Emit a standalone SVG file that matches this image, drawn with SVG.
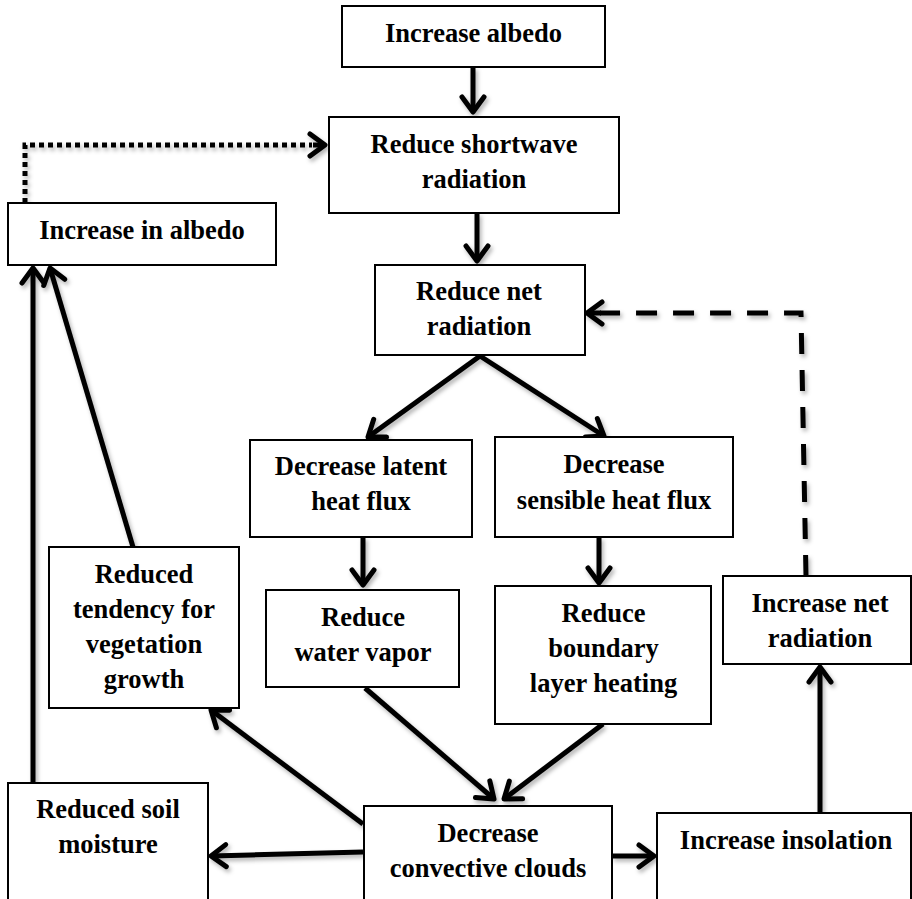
<svg xmlns="http://www.w3.org/2000/svg" width="912" height="899" viewBox="0 0 912 899">
<style>
.box{fill:#fff;stroke:#000;stroke-width:2}
.t{font-family:"Liberation Serif","Times New Roman",serif;font-weight:bold;font-size:26.5px;fill:#000;text-anchor:middle}
.c{fill:none;stroke:#000;stroke-width:5}
</style>
<defs>
<filter id="sh" x="-20%" y="-20%" width="140%" height="140%">
<feDropShadow dx="2" dy="3" stdDeviation="2" flood-color="#000" flood-opacity="0.3"/>
</filter>
<marker id="ah" markerUnits="userSpaceOnUse" markerWidth="30" markerHeight="30" viewBox="-20 -15 24 30" refX="0" refY="0" orient="auto">
<path d="M -15 -11 L 0 0 L -15 11" fill="none" stroke="#000" stroke-width="5" stroke-linecap="round" stroke-linejoin="round"/>
</marker>
</defs>
<rect width="912" height="899" fill="#fff"/>

<g id="connectors" filter="url(#sh)">
<line class="c" x1="473" y1="67" x2="473" y2="112" marker-end="url(#ah)"/>
<line class="c" x1="477" y1="213" x2="477" y2="261" marker-end="url(#ah)"/>
<line class="c" x1="480" y1="356" x2="368" y2="437" marker-end="url(#ah)"/>
<line class="c" x1="480" y1="356" x2="604" y2="436" marker-end="url(#ah)"/>
<line class="c" x1="363" y1="537" x2="363" y2="585" marker-end="url(#ah)"/>
<line class="c" x1="599" y1="537" x2="599" y2="583" marker-end="url(#ah)"/>
<line class="c" x1="365" y1="688" x2="494" y2="799" marker-end="url(#ah)"/>
<line class="c" x1="603" y1="724" x2="504" y2="799" marker-end="url(#ah)"/>
<line class="c" x1="363" y1="824" x2="211" y2="710" marker-end="url(#ah)"/>
<line class="c" x1="363" y1="852" x2="211" y2="856" marker-end="url(#ah)"/>
<line class="c" x1="612" y1="856" x2="654" y2="856" marker-end="url(#ah)"/>
<line class="c" x1="820" y1="813" x2="820" y2="667" marker-end="url(#ah)"/>
<line class="c" x1="33" y1="783" x2="33" y2="268" marker-end="url(#ah)"/>
<line class="c" x1="133" y1="547" x2="50" y2="268" marker-end="url(#ah)"/>
<polyline class="c" points="806,576 801,313 600,313" stroke-dasharray="21 16"/>
<line class="c" x1="601" y1="313" x2="587" y2="313" marker-end="url(#ah)"/>
<polyline class="c" points="25,203 25,145 312,145" stroke-dasharray="5 4"/>
<line class="c" x1="313" y1="145" x2="325" y2="145" marker-end="url(#ah)"/>
</g>

<g id="n-increase-albedo">
<rect class="box" x="342" y="6" width="263" height="61"/>
<text class="t" x="473.5" y="42">Increase albedo</text>
</g>
<g id="n-reduce-shortwave">
<rect class="box" x="329" y="117" width="290" height="96"/>
<text class="t" x="474" y="153">Reduce shortwave</text>
<text class="t" x="474" y="188">radiation</text>
</g>
<g id="n-increase-in-albedo">
<rect class="box" x="8" y="203" width="268" height="62"/>
<text class="t" x="142" y="239">Increase in albedo</text>
</g>
<g id="n-reduce-net">
<rect class="box" x="375" y="265" width="210" height="90"/>
<text class="t" x="479" y="300">Reduce net</text>
<text class="t" x="479" y="335">radiation</text>
</g>
<g id="n-latent">
<rect class="box" x="250" y="440" width="222" height="97"/>
<text class="t" x="361" y="475">Decrease latent</text>
<text class="t" x="361" y="510">heat flux</text>
</g>
<g id="n-sensible">
<rect class="box" x="495" y="437" width="238" height="100"/>
<text class="t" x="614" y="473">Decrease</text>
<text class="t" x="614" y="509">sensible heat flux</text>
</g>
<g id="n-vegetation">
<rect class="box" x="49" y="547" width="190" height="161"/>
<text class="t" x="144" y="583">Reduced</text>
<text class="t" x="144" y="618">tendency for</text>
<text class="t" x="144" y="653">vegetation</text>
<text class="t" x="144" y="688">growth</text>
</g>
<g id="n-water-vapor">
<rect class="box" x="266" y="590" width="193" height="97"/>
<text class="t" x="363" y="626">Reduce</text>
<text class="t" x="363" y="661">water vapor</text>
</g>
<g id="n-boundary">
<rect class="box" x="495" y="586" width="216" height="138"/>
<text class="t" x="603.5" y="622">Reduce</text>
<text class="t" x="603.5" y="657">boundary</text>
<text class="t" x="603.5" y="692">layer heating</text>
</g>
<g id="n-increase-net">
<rect class="box" x="723" y="576" width="188" height="88"/>
<text class="t" x="820" y="612">Increase net</text>
<text class="t" x="820" y="647">radiation</text>
</g>
<g id="n-soil">
<rect class="box" x="8" y="783" width="200" height="120"/>
<text class="t" x="108" y="818">Reduced soil</text>
<text class="t" x="108" y="853">moisture</text>
</g>
<g id="n-clouds">
<rect class="box" x="364" y="806" width="248" height="100"/>
<text class="t" x="488" y="842">Decrease</text>
<text class="t" x="488" y="877">convective clouds</text>
</g>
<g id="n-insolation">
<rect class="box" x="657" y="813" width="254" height="100"/>
<text class="t" x="786" y="849">Increase insolation</text>
</g>
</svg>
